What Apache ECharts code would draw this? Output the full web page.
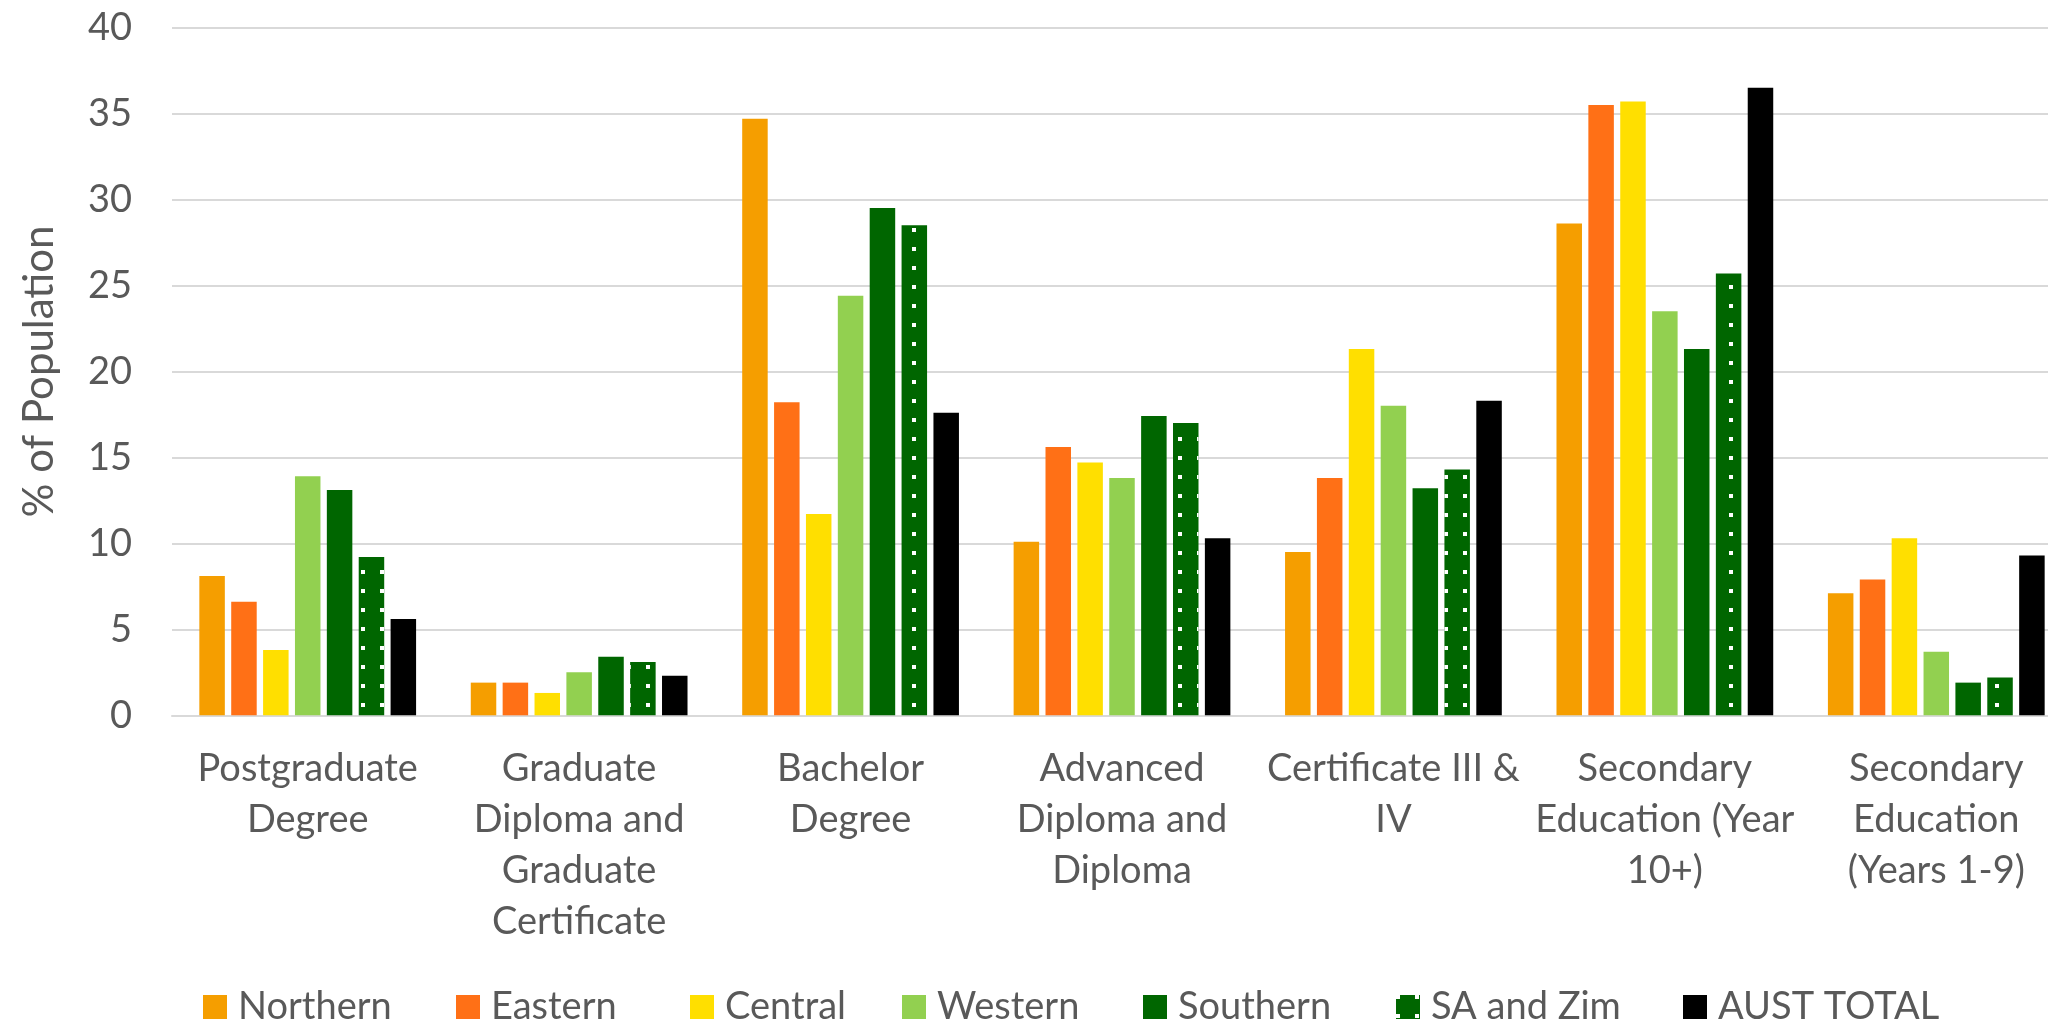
<!DOCTYPE html>
<html>
<head>
<meta charset="utf-8">
<script src="https://cdn.jsdelivr.net/npm/echarts@6/dist/echarts.min.js"></script>
<style>
html,body{margin:0;padding:0;background:#fff;overflow:hidden;width:2048px;height:1022px;}
#chart{width:2072px;height:1022px;}
</style>
</head>
<body>
<div id="chart"></div>
<script>
const categories = ['Postgraduate Degree', 'Graduate Diploma and Graduate Certificate', 'Bachelor Degree', 'Advanced Diploma and Diploma', 'Certificate III & IV', 'Secondary Education (Year 10+)', 'Secondary Education (Years 1-9)'];
const categoryLabels = ['Postgraduate\nDegree', 'Graduate\nDiploma and\nGraduate\nCertificate', 'Bachelor\nDegree', 'Advanced\nDiploma and\nDiploma', 'Certificate III &\nIV', 'Secondary\nEducation (Year\n10+)', 'Secondary\nEducation\n(Years 1-9)'];
const seriesNames = ['Northern', 'Eastern', 'Central', 'Western', 'Southern', 'SA and Zim', 'AUST TOTAL'];
const northern  = [8.1, 1.9, 34.7, 10.1, 9.5, 28.6, 7.1];
const eastern   = [6.6, 1.9, 18.2, 15.6, 13.8, 35.5, 7.9];
const central   = [3.8, 1.3, 11.7, 14.7, 21.3, 35.7, 10.3];
const western   = [13.9, 2.5, 24.4, 13.8, 18.0, 23.5, 3.7];
const southern  = [13.1, 3.4, 29.5, 17.4, 13.2, 21.3, 1.9];
const saAndZim  = [9.2, 3.1, 28.5, 17.0, 14.3, 25.7, 2.2];
const austTotal = [5.6, 2.3, 17.6, 10.3, 18.3, 36.5, 9.3];
const yTicks = { min: 0, max: 40, interval: 5 };

const seriesData = [northern, eastern, central, western, southern, saAndZim, austTotal];
const colors = ['#F59E00', '#FF7016', '#FFDF00', '#92D050', '#006600', '#006600', '#000000'];
const legendLeft = [198, 451, 685, 897, 1138, 1391, 1678];

const FONT = 'Lato';
const TEXT = '#595959';

const chart = echarts.init(document.getElementById('chart'), null, { renderer: 'canvas' });

const series = seriesNames.map((name, i) => {
  const s = {
    name: name,
    type: 'bar',
    data: seriesData[i],
    barWidth: 25.5,
    barGap: '25%',
    itemStyle: { color: colors[i] },
    emphasis: { disabled: true },
    animation: false
  };
  if (name === 'SA and Zim') {
    s.itemStyle.decal = {
      symbol: 'rect',
      symbolSize: 1,
      color: '#ffffff',
      dashArrayX: [4, 14.7],
      dashArrayY: [4, 14.7],
      rotation: 0
    };
  }
  return s;
});

const legends = seriesNames.map((name, i) => ({
  data: [name],
  left: legendLeft[i],
  top: 978,
  itemWidth: 24,
  itemHeight: 24,
  icon: 'rect',
  selectedMode: false,
  textStyle: { fontFamily: FONT, fontSize: 38, color: TEXT, lineHeight: 48, padding: [0, 0, 0, 6] }
}));

chart.setOption({
  backgroundColor: '#ffffff',
  animation: false,
  grid: { left: 172, right: 0, top: 27.5, bottom: 306.7, containLabel: false },
  legend: legends,
  xAxis: {
    type: 'category',
    data: categories,
    axisTick: { show: false },
    axisLine: { show: true, lineStyle: { color: '#D9D9D9', width: 2 } },
    axisLabel: {
      interval: 0,
      margin: 28,
      fontFamily: FONT,
      fontSize: 38,
      lineHeight: 51,
      color: TEXT,
      align: 'center',
      formatter: function (v, idx) { return categoryLabels[idx]; }
    },
    splitLine: { show: false }
  },
  yAxis: {
    type: 'value',
    min: yTicks.min,
    max: yTicks.max,
    interval: yTicks.interval,
    name: '% of Population',
    nameLocation: 'middle',
    nameGap: 112,
    nameRotate: 90,
    nameTextStyle: { fontFamily: FONT, fontSize: 42, color: TEXT },
    axisLine: { show: false },
    axisTick: { show: false },
    axisLabel: { margin: 40, fontFamily: FONT, fontSize: 38, color: TEXT },
    splitLine: { lineStyle: { color: '#D9D9D9', width: 2 } }
  },
  series: series
});
</script>
</body>
</html>
